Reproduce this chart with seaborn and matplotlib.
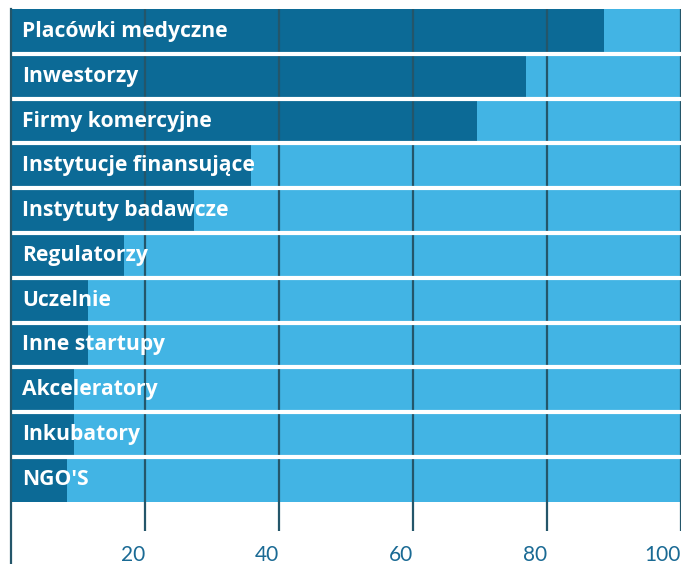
import numpy as np
import matplotlib.pyplot as plt
import seaborn as sns
import pandas as pd

# data
categories = ["Placówki medyczne", "Inwestorzy", "Firmy komercyjne",
              "Instytucje finansujące", "Instytuty badawcze", "Regulatorzy",
              "Uczelnie", "Inne startupy", "Akceleratory", "Inkubatory", "NGO'S"]
values = [88.5, 76.9, 69.6, 35.8, 27.3, 16.9, 11.5, 11.5, 9.4, 9.4, 8.4]
full = [100] * len(categories)
xticks = [20, 40, 60, 80, 100]

DARK = "#0c6a96"
LIGHT = "#42b4e4"
GRID = "#24566a"
TICK = "#1a6a94"

sns.set_style("white")
plt.rcParams["font.family"] = ["Open Sans", "DejaVu Sans"]

df = pd.DataFrame({"cat": categories, "val": values, "full": full})

fig = plt.figure(figsize=(6.82, 5.64), dpi=100)
W, H = 682, 564
ax = fig.add_axes([11 / W, 0, 670 / W, (564 - 9) / H])

sns.barplot(data=df, x="full", y="cat", color=LIGHT, width=1.0,
            linewidth=0, saturation=1, ax=ax, zorder=1)
sns.barplot(data=df, x="val", y="cat", color=DARK, width=1.0,
            linewidth=0, saturation=1, ax=ax, zorder=1)

pitch = 44.8
ybottom = -0.5 + (564 - 9) / pitch
ax.set_xlim(0, 100)
ax.set_ylim(ybottom, -0.5)

# gridlines over bars
grid_end = -0.5 + (531 - 9) / pitch
ax.vlines(xticks, -0.5, grid_end, color=GRID, lw=1.6, zorder=3)

# white separators between rows
ax.hlines(np.arange(len(categories) - 1) + 0.5, 0, 100, color="white",
          lw=3.0, zorder=4)

for i, c in enumerate(categories):
    ax.text(1.65, i, c, color="white", fontsize=15.2, fontweight="bold",
            va="center", ha="left", zorder=5)

for s in ["top", "right", "bottom"]:
    ax.spines[s].set_visible(False)
ax.spines["left"].set_color(GRID)
ax.spines["left"].set_linewidth(1.6)
ax.spines["left"].set_zorder(6)

ax.set_yticks([])
ax.set_xticks(xticks)
ax.set_xticklabels([str(t) for t in xticks], color=TICK, fontsize=15,
                   fontweight="normal", family=["Lato", "DejaVu Sans"])
ax.tick_params(axis="x", length=0, pad=-14)
for lab in ax.get_xticklabels():
    lab.set_ha("right")
ax.set_xlabel("")
ax.set_ylabel("")

fig.savefig("out.png", dpi=100)
